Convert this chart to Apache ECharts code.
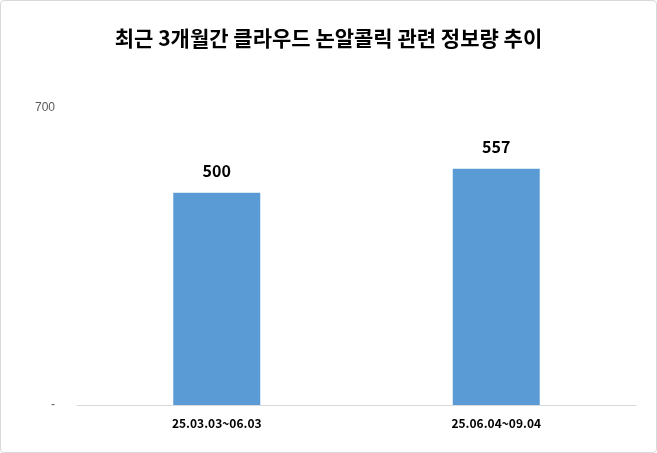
<!DOCTYPE html>
<html><head><meta charset="utf-8">
<script src="https://cdn.jsdelivr.net/npm/echarts@6/dist/echarts.min.js"></script>
<style>
html,body{margin:0;padding:0;background:#fff}
#chart{width:655px;height:451px;border:1px solid #d9d9d9;border-radius:4px}
</style></head>
<body><div id="chart"></div>
<script>
var categories = ['25.03.03~06.03', '25.06.04~09.04'];
var values = [500, 557];
var yTicks = [0, 700];

var chart = echarts.init(document.getElementById('chart'));
chart.setOption({
	animation: false,
	title: {
		text: '최근 3개월간 클라우드 논알콜릭 관련 정보량 추이',
		left: 'center', top: 22,
		textStyle: {fontFamily: 'Noto Sans CJK KR', fontSize: 21, fontWeight: 'bold', color: '#000'}
	},
	grid: {left: 76, right: 20, top: 107, bottom: 47},
	xAxis: {
		type: 'category',
		data: categories,
		axisLine: {lineStyle: {color: '#d9d9d9'}},
		axisTick: {show: false},
		axisLabel: {color: '#000', fontWeight: 'bold', fontSize: 12, margin: 12, fontFamily: 'Noto Sans CJK KR'}
	},
	yAxis: {
		type: 'value',
		min: yTicks[0], max: yTicks[1], interval: 700,
		splitLine: {show: false},
		axisLabel: {
			color: '#595959', fontSize: 12, margin: 22,
			formatter: function (v) { return v === 0 ? '-' : v; }
		}
	},
	series: [{
		type: 'bar',
		data: values,
		barWidth: 87,
		itemStyle: {color: '#5b9bd5'},
		label: {show: true, position: 'top', distance: 14, color: '#000', fontWeight: 'bold', fontSize: 16, fontFamily: 'Noto Sans CJK KR'}
	}]
});
</script></body></html>
